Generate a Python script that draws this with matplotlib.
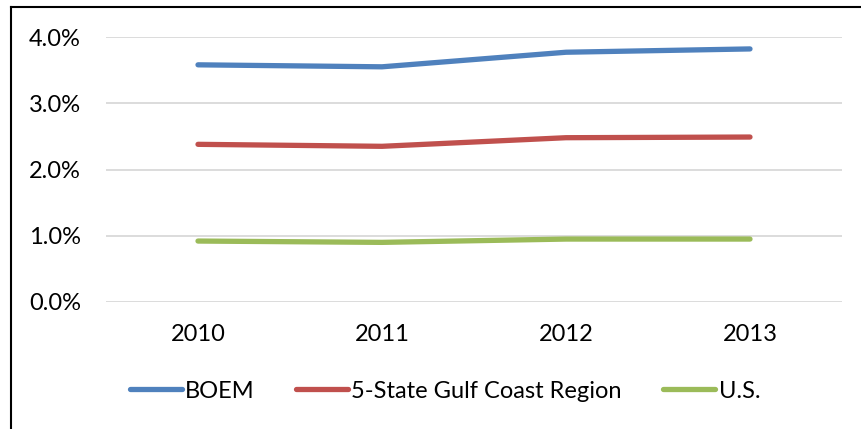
import matplotlib.pyplot as plt
from matplotlib.lines import Line2D
from matplotlib.ticker import PercentFormatter

years = ["2010", "2011", "2012", "2013"]
boem = [3.58, 3.55, 3.77, 3.82]
gulf = [2.38, 2.35, 2.48, 2.49]
us = [0.92, 0.90, 0.95, 0.95]

series = [
    ("BOEM", boem, "#4F81BD"),
    ("5-State Gulf Coast Region", gulf, "#C0504D"),
    ("U.S.", us, "#9BBB59"),
]

plt.rcParams['font.family'] = ['Lato', 'DejaVu Sans']

fig = plt.figure(figsize=(8.61, 4.29), dpi=100)
ax = fig.add_axes([106 / 861, 1 - 302 / 429, 736 / 861, 265 / 429])

x = range(len(years))
for name, vals, color in series:
    ax.plot(x, vals, color=color, lw=3.8, solid_capstyle='round', label=name)

ax.set_xlim(-0.5, len(years) - 0.5)
ax.set_ylim(0, 4.0)
ax.set_yticks([0, 1, 2, 3, 4])
ax.yaxis.set_major_formatter(PercentFormatter(decimals=1))
ax.set_xticks(list(x))
ax.set_xticklabels(years)
ax.grid(axis='y', color='#D9D9D9', lw=1.3)
ax.set_axisbelow(True)
for s in ax.spines.values():
    s.set_visible(False)
ax.tick_params(axis='both', length=0, labelsize=17, colors='black')
ax.tick_params(axis='y', pad=18)
ax.tick_params(axis='x', pad=16)

ax.legend(loc='center', bbox_to_anchor=(445 / 861, 1 - 391 / 429), bbox_transform=fig.transFigure,
          ncol=3, frameon=False, fontsize=17, handlelength=2.2, handletextpad=0.15,
          columnspacing=1.75)

# chart border (left and top edges visible)
fig.add_artist(Line2D([10.5 / 861, 10.5 / 861], [0, 1 - 7 / 429], color='black', lw=1.5))
fig.add_artist(Line2D([10.5 / 861, 1], [1 - 7 / 429, 1 - 7 / 429], color='black', lw=1.5))

fig.savefig("out.png", dpi=100)
